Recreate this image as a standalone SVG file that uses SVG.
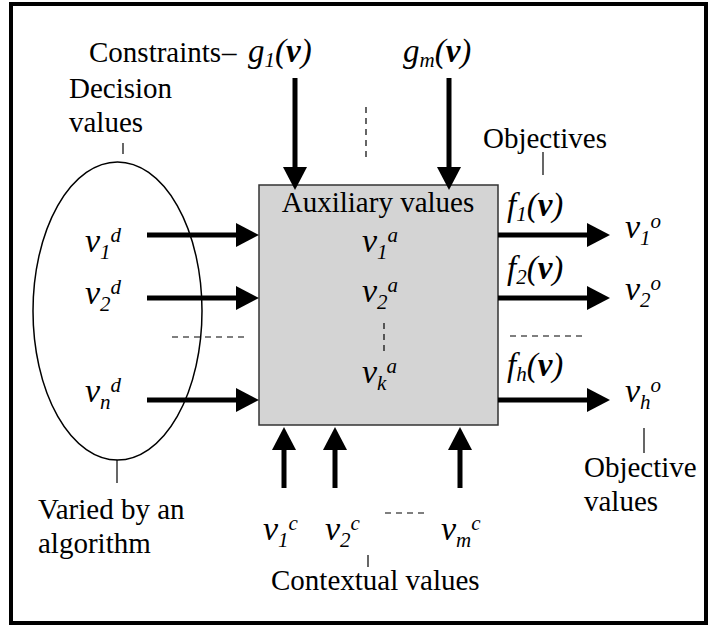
<svg xmlns="http://www.w3.org/2000/svg" width="708" height="625" viewBox="0 0 708 625">
<style>
text{font-family:'Liberation Serif','Times New Roman',serif;fill:#000}
.t{font-size:29px}
.mv{font-size:34px;font-style:italic}
.sc{font-size:21px;font-style:italic}
.fn{font-size:33px;font-style:italic}
.fs{font-size:21px}
.b{font-weight:bold}
.arr{stroke:#000;stroke-width:5;fill:none;marker-end:url(#ah)}
.dash{stroke:#000;stroke-width:1.2;stroke-dasharray:6 5;fill:none}
.tick{stroke:#000;stroke-width:1.2;fill:none}
</style>
<defs>
<marker id="ah" markerUnits="userSpaceOnUse" markerWidth="24" markerHeight="24" refX="0" refY="12" orient="auto" overflow="visible">
<path d="M0,0 L23,12 L0,24 Z" fill="#000"/>
</marker>
</defs>
<rect x="0" y="0" width="708" height="625" fill="#fff"/>
<rect id="frame" x="11" y="4" width="695" height="619" fill="none" stroke="#000" stroke-width="4"/>

<g id="decision">
<ellipse cx="117.5" cy="311" rx="84.5" ry="149" fill="none" stroke="#000" stroke-width="1.5"/>
<text class="t" x="69" y="98">Decision</text>
<text class="t" x="69" y="132">values</text>
<text class="mv" x="85" y="252">v<tspan class="sc" dy="7">1</tspan><tspan class="sc" dy="-17">d</tspan></text>
<text class="mv" x="85" y="304">v<tspan class="sc" dy="7">2</tspan><tspan class="sc" dy="-17">d</tspan></text>
<text class="mv" x="85" y="402">v<tspan class="sc" dy="7">n</tspan><tspan class="sc" dy="-17">d</tspan></text>
<text class="t" x="38" y="519">Varied by an</text>
<text class="t" x="38" y="553">algorithm</text>
</g>

<g id="box">
<rect x="259" y="185" width="239" height="240" fill="#d4d4d4" stroke="#333" stroke-width="1.5"/>
<text class="t" x="378" y="212" text-anchor="middle">Auxiliary values</text>
<text class="mv" x="362" y="252">v<tspan class="sc" dy="7">1</tspan><tspan class="sc" dy="-17">a</tspan></text>
<text class="mv" x="362" y="302">v<tspan class="sc" dy="7">2</tspan><tspan class="sc" dy="-17">a</tspan></text>
<text class="mv" x="362" y="383">v<tspan class="sc" dy="7">k</tspan><tspan class="sc" dy="-17">a</tspan></text>
</g>

<g id="constraints">
<text class="t" x="89" y="62">Constraints</text>
<text class="t" x="222" y="62">–</text>
<text class="fn" x="248" y="62">g<tspan class="fs" dy="5">1</tspan><tspan dy="-5">(</tspan><tspan class="b">v</tspan>)</text>
<text class="fn" x="403" y="62">g<tspan class="fs" dy="5">m</tspan><tspan dy="-5">(</tspan><tspan class="b">v</tspan>)</text>
</g>

<g id="objectives">
<text class="t" x="483" y="148">Objectives</text>
<text class="fn" x="507" y="216">f<tspan class="fs" dy="5">1</tspan><tspan dy="-5">(</tspan><tspan class="b">v</tspan>)</text>
<text class="fn" x="507" y="279">f<tspan class="fs" dy="5">2</tspan><tspan dy="-5">(</tspan><tspan class="b">v</tspan>)</text>
<text class="fn" x="507" y="376">f<tspan class="fs" dy="5">h</tspan><tspan dy="-5">(</tspan><tspan class="b">v</tspan>)</text>
<text class="mv" x="625" y="238">v<tspan class="sc" dy="7">1</tspan><tspan class="sc" dy="-17">o</tspan></text>
<text class="mv" x="625" y="300">v<tspan class="sc" dy="7">2</tspan><tspan class="sc" dy="-17">o</tspan></text>
<text class="mv" x="625" y="402">v<tspan class="sc" dy="7">h</tspan><tspan class="sc" dy="-17">o</tspan></text>
<text class="t" x="584" y="477">Objective</text>
<text class="t" x="584" y="511">values</text>
</g>

<g id="contextual">
<text class="mv" x="263" y="540">v<tspan class="sc" dy="7">1</tspan><tspan class="sc" dy="-17">c</tspan></text>
<text class="mv" x="325" y="540">v<tspan class="sc" dy="7">2</tspan><tspan class="sc" dy="-17">c</tspan></text>
<text class="mv" x="441" y="540">v<tspan class="sc" dy="7">m</tspan><tspan class="sc" dy="-17">c</tspan></text>
<text class="t" x="271" y="590">Contextual values</text>
</g>

<g id="connectors">
<line class="arr" x1="295" y1="78" x2="295" y2="167"/>
<line class="arr" x1="449" y1="78" x2="449" y2="167"/>
<line class="arr" x1="147" y1="235" x2="236" y2="235"/>
<line class="arr" x1="147" y1="298" x2="236" y2="298"/>
<line class="arr" x1="147" y1="400" x2="236" y2="400"/>
<line class="arr" x1="498" y1="235" x2="587" y2="235"/>
<line class="arr" x1="498" y1="298" x2="587" y2="298"/>
<line class="arr" x1="498" y1="400" x2="587" y2="400"/>
<line class="arr" x1="284" y1="488" x2="284" y2="450"/>
<line class="arr" x1="335" y1="488" x2="335" y2="450"/>
<line class="arr" x1="460" y1="488" x2="460" y2="450"/>
<line class="dash" x1="366" y1="107" x2="366" y2="161"/>
<line class="dash" x1="172" y1="337" x2="249" y2="337"/>
<line class="dash" x1="510" y1="336" x2="587" y2="336"/>
<line class="dash" x1="384" y1="323" x2="384" y2="351" stroke-dasharray="6 4"/>
<line class="dash" x1="385" y1="513" x2="424" y2="513" stroke-dasharray="7 4"/>
<line class="tick" x1="123" y1="143" x2="123" y2="154"/>
<line class="tick" x1="543" y1="152" x2="543" y2="175"/>
<line class="tick" x1="117" y1="460" x2="117" y2="483"/>
<line class="tick" x1="644" y1="428" x2="644" y2="453"/>
<line class="tick" x1="368" y1="555" x2="368" y2="567"/>
</g>
</svg>
